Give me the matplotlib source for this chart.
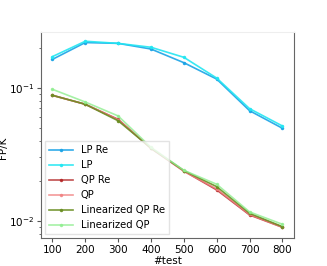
import numpy as np
import matplotlib.pyplot as plt

# number of tests
n_test = [100, 200, 300, 400, 500, 600, 700, 800]

# FP/K for each method
lp_re = [0.163, 0.218, 0.215, 0.195, 0.154, 0.116, 0.0672, 0.0496]
lp = [0.171, 0.223, 0.215, 0.201, 0.169, 0.118, 0.0696, 0.0516]
qp_re = [0.0877, 0.0751, 0.0579, 0.0351, 0.0237, 0.0171, 0.0111, 0.00897]
qp = [0.0875, 0.0752, 0.0575, 0.0352, 0.0236, 0.0174, 0.0112, 0.0090]
lin_qp_re = [0.0877, 0.0751, 0.0565, 0.0352, 0.0239, 0.0181, 0.01143, 0.00907]
lin_qp = [0.0973, 0.0781, 0.0614, 0.0357, 0.0240, 0.01886, 0.0117, 0.00945]

fig = plt.figure(figsize=(3.27, 2.66), dpi=100)
ax = fig.add_axes([0.125, 0.105, 0.774, 0.775])

ax.plot(n_test, lp_re, label='LP Re', color='#1aa3e6', marker='.', markersize=3, linewidth=1.2, alpha=0.9)
ax.plot(n_test, lp, label='LP', color='#22e6f2', marker='.', markersize=3, linewidth=1.2, alpha=0.9)
ax.plot(n_test, qp_re, label='QP Re', color='#b22222', marker='.', markersize=3, linewidth=1.2, alpha=0.8)
ax.plot(n_test, qp, label='QP', color='#f08080', marker='.', markersize=3, linewidth=1.2, alpha=0.8)
ax.plot(n_test, lin_qp_re, label='Linearized QP Re', color='#6b8e23', marker='.', markersize=3, linewidth=1.2, alpha=0.9)
ax.plot(n_test, lin_qp, label='Linearized QP', color='#90ee90', marker='.', markersize=3, linewidth=1.2, alpha=0.8)

ax.set_yscale('log')
ax.set_ylim(0.00745, 0.262)
ax.set_xlim(65, 835)
ax.set_xticks(n_test)

ax.set_xlabel('#test', fontsize=7.5, labelpad=1)
ax.set_ylabel('FP/K', fontsize=7.5)
ax.yaxis.set_label_coords(-0.128, 0.44)
ax.tick_params(labelsize=7.5, length=3, color='#555555', pad=2)
ax.tick_params(which='minor', length=1.5, color='#555555')
ax.yaxis.set_minor_formatter(plt.NullFormatter())

for side in ['left', 'bottom', 'right']:
    ax.spines[side].set_color('#666666')
ax.spines['top'].set_color('#eeeeee')

ax.legend(loc='lower left', fontsize=7.2, frameon=True, fancybox=False,
          edgecolor='#dddddd', handlelength=2.4, labelspacing=0.5,
          borderaxespad=0.4)

fig.savefig('out.png', dpi=100)
